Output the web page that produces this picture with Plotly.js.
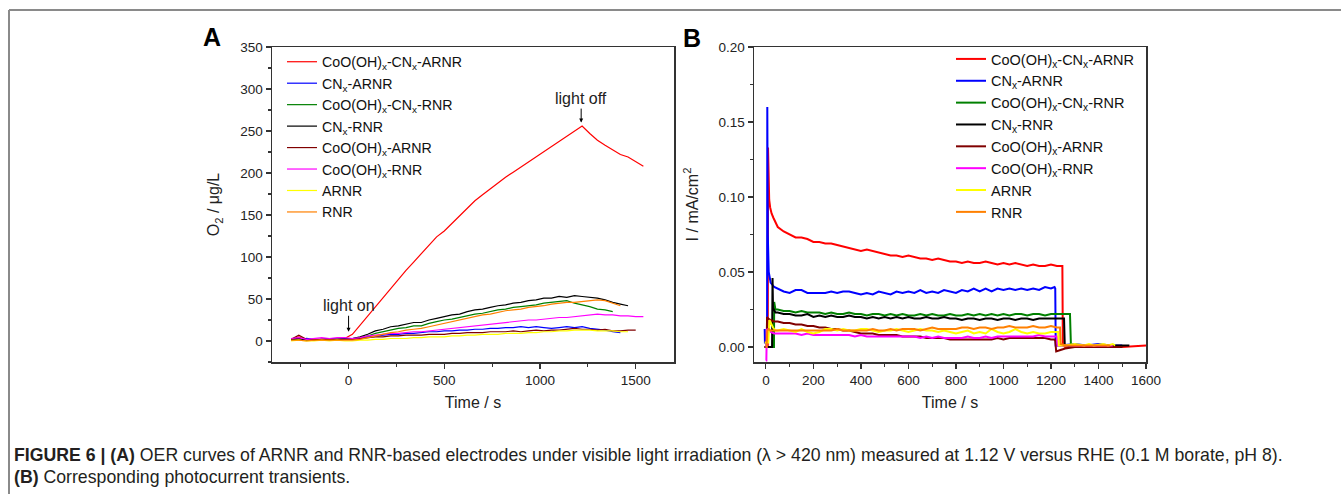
<!DOCTYPE html>
<html>
<head>
<meta charset="utf-8">
<script src="https://cdn.plot.ly/plotly-3.0.1.min.js"></script>
<style>
html,body{margin:0;padding:0;background:#fff;}
#chart{width:1341px;height:494px;}
</style>
</head>
<body>
<div id="chart"></div>
<script>
// ---------- series names ----------
const seriesNames = [
  "CoO(OH)<sub>x</sub>-CN<sub>x</sub>-ARNR",
  "CN<sub>x</sub>-ARNR",
  "CoO(OH)<sub>x</sub>-CN<sub>x</sub>-RNR",
  "CN<sub>x</sub>-RNR",
  "CoO(OH)<sub>x</sub>-ARNR",
  "CoO(OH)<sub>x</sub>-RNR",
  "ARNR",
  "RNR"
];
const seriesColors = ["#ff0000","#0000ff","#008000","#000000","#800000","#ff00ff","#ffff00","#ff8000"];

// ---------- Panel A: O2 evolution (time / s) ----------
const timeA = [-300,-260,-220,-180,-140,-100,-60,-20,20,60,100,140,180,220,260,300,340,380,420,460,500,540,580,620,660,700,740,780,820,860,900,940,980,1020,1060,1100,1140,1180,1220,1260,1300,1340,1380,1420,1460,1500,1540];
const o2_CoCN_ARNR = [2,5,1,2,2,3,2,3,8,19,30,41,52,63,74,84,94,104,113,124,131,140,150,158,167,174,181,189,195,201,207,213,219,225,231,238,243,249,256,247,239,233,228,222,219,213,208];
const o2_CN_ARNR   = [2,1,3,2,2,3,2,3,3,4,5,6,7,8,8,9,9,10,11,11,12,12,13,13,14,14,15,15,16,16,17,16,17,16,15,16,17,16,17,15,14,13,11,10];
const o2_CoCN_RNR  = [1,2,1,1,2,1,2,2,2,4,6,9,11,13,15,16,18,18,21,23,25,26,28,30,32,33,35,37,38,40,41,42,43,45,46,47,48,45,43,41,38,37,35];
const o2_CN_RNR    = [2,3,1,2,1,2,2,2,3,5,8,12,14,17,18,20,22,22,25,27,29,31,32,35,37,38,40,42,43,45,46,48,49,51,51,53,52,54,53,52,51,49,46,44,42];
const o2_Co_ARNR   = [2,7,2,1,2,2,1,2,2,3,4,5,5,6,6,7,7,7,8,8,8,9,9,10,10,10,11,11,11,12,11,12,13,12,13,13,14,15,14,14,13,14,12,12,13,13];
const o2_Co_RNR    = [3,4,2,3,4,3,4,4,3,4,6,7,8,9,9,10,11,11,12,13,14,15,16,17,18,19,20,21,22,23,24,25,25,26,27,28,28,29,30,31,32,31,31,30,30,29,29];
const o2_ARNR      = [0,1,0,0,1,0,1,0,0,1,1,2,2,3,3,3,4,4,5,5,5,6,6,7,7,8,8,8,9,9,9,10,10,11,11,12,12,13,13,13,12,12,12,11,11];
const o2_RNR       = [1,1,0,1,1,1,1,1,1,2,4,6,8,10,11,13,14,15,17,19,21,23,25,27,29,31,32,34,36,37,38,40,41,42,44,45,46,46,47,48,49,48,45,42];
const o2Series = [o2_CoCN_ARNR,o2_CN_ARNR,o2_CoCN_RNR,o2_CN_RNR,o2_Co_ARNR,o2_Co_RNR,o2_ARNR,o2_RNR];

// ---------- Panel B: photocurrent (time / s, mA/cm2) ----------
const timeB = [50,75,100,125,150,175,200,225,250,275,300,325,350,375,400,425,450,475,500,525,550,575,600,625,650,675,700,725,750,775,800,825,850,875,900,925,950,975,1000,1025,1050,1075,1100,1125,1150,1175,1200];

const headT_CoCN_ARNR = [-5,8,9,11,14,18,24,32,40];
const headI_CoCN_ARNR = [0,0,0.133,0.105,0.098,0.093,0.089,0.086,0.083];
const onI_CoCN_ARNR = [.080,.077,.075,.073,.073,.072,.070,.070,.069,.069,.068,.067,.066,.065,.064,.065,.064,.063,.062,.061,.061,.060,.061,.060,.059,.059,.058,.059,.058,.057,.057,.056,.057,.056,.056,.057,.056,.055,.056,.055,.056,.055,.054,.055,.054,.054,.055];
const tailT_CoCN_ARNR = [1225,1248,1250,1260,1300,1400,1500,1600];
const tailI_CoCN_ARNR = [.054,.054,.001,.000,.000,.000,.000,.001];

const headT_CN_ARNR = [-5,-4,5,6,8,12,20,35];
const headI_CN_ARNR = [0.012,0.003,0.003,0.160,0.075,0.050,0.043,0.040];
const onI_CN_ARNR = [.039,.037,.036,.038,.038,.036,.036,.036,.036,.037,.036,.037,.037,.036,.035,.036,.035,.037,.036,.035,.037,.036,.037,.036,.038,.036,.037,.036,.038,.037,.036,.038,.037,.039,.037,.039,.037,.039,.038,.039,.038,.039,.038,.039,.038,.040,.039];
const tailT_CN_ARNR = [1215,1218,1220,1240,1300,1350,1400,1450,1500];
const tailI_CN_ARNR = [.040,.039,.001,.001,.002,.001,.002,.001,.001];

const headT_CoCN_RNR = [-5,30,34,35,40];
const headI_CoCN_RNR = [0,0,0,0.030,0.025];
const onI_CoCN_RNR = [.025,.024,.024,.023,.024,.023,.023,.023,.022,.023,.022,.022,.023,.022,.022,.021,.022,.022,.021,.022,.021,.022,.021,.021,.022,.021,.022,.021,.021,.022,.021,.021,.022,.021,.022,.021,.022,.021,.022,.021,.022,.022,.021,.022,.022,.021,.022];
const tailT_CoCN_RNR = [1225,1250,1280,1284,1300,1400,1500];
const tailI_CoCN_RNR = [.022,.022,.022,.001,.001,.000,.000];

const headT_CN_RNR = [-5,26,28,30,40];
const headI_CN_RNR = [0,0,0.046,0.026,0.023];
const onI_CN_RNR = [.023,.022,.022,.021,.021,.022,.020,.021,.020,.021,.020,.020,.021,.020,.020,.019,.020,.019,.020,.019,.020,.019,.020,.019,.019,.020,.019,.019,.020,.019,.019,.018,.019,.019,.018,.019,.019,.018,.019,.019,.018,.019,.019,.018,.019,.019,.019];
const tailT_CN_RNR = [1225,1255,1258,1300,1400,1500,1530];
const tailI_CN_RNR = [.019,.019,.001,.000,.001,.001,.001];

const headT_Co_ARNR = [-5,3,5,10,20,35];
const headI_Co_ARNR = [0,0,0.020,0.019,0.018,0.017];
const onI_Co_ARNR = [.017,.016,.016,.015,.015,.014,.014,.013,.013,.012,.012,.011,.011,.010,.009,.009,.009,.008,.008,.008,.008,.007,.007,.007,.007,.006,.006,.006,.006,.005,.005,.005,.005,.005,.005,.005,.005,.006,.005,.006,.006,.006,.006,.006,.006,.006,.005];
const tailT_Co_ARNR = [1215,1218,1222,1240,1260,1300,1400,1500];
const tailI_Co_ARNR = [.005,.004,-.003,-.002,-.001,.000,.000,.000];

const headT_Co_RNR = [0,2,4,10,20,35];
const headI_Co_RNR = [-0.009,-0.009,0.012,0.011,0.010,0.009];
const onI_Co_RNR = [.009,.009,.009,.009,.008,.009,.008,.008,.008,.008,.008,.008,.008,.007,.008,.007,.007,.007,.007,.007,.007,.007,.007,.007,.006,.007,.006,.007,.006,.006,.006,.006,.007,.006,.006,.007,.006,.007,.007,.007,.007,.007,.007,.007,.008,.007,.007];
const tailT_Co_RNR = [1215,1225,1228,1260,1300,1400,1460];
const tailI_Co_RNR = [.007,.007,.001,.001,.001,.001,.001];

const headT_ARNR = [-5,10,15,20,30,40];
const headI_ARNR = [0.003,0.003,0.018,0.016,0.013,0.011];
const onI_ARNR = [.011,.012,.011,.010,.012,.010,.009,.010,.012,.012,.011,.012,.011,.011,.012,.012,.011,.010,.011,.011,.012,.011,.010,.011,.012,.011,.011,.010,.011,.010,.009,.010,.011,.009,.010,.009,.012,.010,.009,.010,.012,.010,.009,.010,.009,.009,.010];
const tailT_ARNR = [1225,1230,1233,1260,1300,1340,1360,1380,1420,1440,1460,1470];
const tailI_ARNR = [.010,.010,.001,.001,.002,.001,.002,.001,.002,.001,.002,.001];

const headT_RNR = [0,3,6,12,20,35];
const headI_RNR = [0.0,0.0,0.011,0.012,0.011,0.011];
const onI_RNR = [.011,.011,.011,.011,.011,.011,.011,.011,.011,.011,.012,.011,.011,.011,.011,.011,.012,.011,.011,.012,.011,.012,.012,.012,.011,.012,.013,.012,.012,.012,.012,.013,.013,.012,.013,.013,.012,.013,.013,.014,.013,.013,.013,.014,.013,.013,.014];
const tailT_RNR = [1225,1238,1241,1260,1300,1400,1450];
const tailI_RNR = [.013,.013,.002,.001,.001,.001,.001];

const curB = [
  [headT_CoCN_ARNR, headI_CoCN_ARNR, onI_CoCN_ARNR, tailT_CoCN_ARNR, tailI_CoCN_ARNR],
  [headT_CN_ARNR, headI_CN_ARNR, onI_CN_ARNR, tailT_CN_ARNR, tailI_CN_ARNR],
  [headT_CoCN_RNR, headI_CoCN_RNR, onI_CoCN_RNR, tailT_CoCN_RNR, tailI_CoCN_RNR],
  [headT_CN_RNR, headI_CN_RNR, onI_CN_RNR, tailT_CN_RNR, tailI_CN_RNR],
  [headT_Co_ARNR, headI_Co_ARNR, onI_Co_ARNR, tailT_Co_ARNR, tailI_Co_ARNR],
  [headT_Co_RNR, headI_Co_RNR, onI_Co_RNR, tailT_Co_RNR, tailI_Co_RNR],
  [headT_ARNR, headI_ARNR, onI_ARNR, tailT_ARNR, tailI_ARNR],
  [headT_RNR, headI_RNR, onI_RNR, tailT_RNR, tailI_RNR]
];

// ---------- tick labels ----------
const ticksAx = [0,500,1000,1500];
const ticksAy = [0,50,100,150,200,250,300,350];
const ticksBx = [0,200,400,600,800,1000,1200,1400,1600];
const ticksBy = [0,0.05,0.10,0.15,0.20];

// ---------- build ----------
const FONT = "Liberation Sans, Arial, Helvetica, sans-serif";
const W = 1341, H = 494;
const px = v => v / W;
const py = v => 1 - v / H;

const traces = [];
seriesNames.forEach((nm, i) => {
  traces.push({
    type: "scatter", mode: "lines",
    x: timeA, y: o2Series[i],
    name: nm, legend: "legend",
    xaxis: "x", yaxis: "y",
    line: {color: seriesColors[i], width: 1.2},
    hoverinfo: "skip"
  });
});
seriesNames.forEach((nm, i) => {
  const d = curB[i];
  traces.push({
    type: "scatter", mode: "lines",
    x: d[0].concat(timeB, d[3]),
    y: d[1].concat(d[2], d[4]),
    name: nm, legend: "legend2",
    xaxis: "x2", yaxis: "y2",
    line: {color: seriesColors[i], width: 2},
    hoverinfo: "skip"
  });
});

const axCommon = {
  showline: true, linecolor: "#333", linewidth: 1.5, mirror: true,
  ticks: "outside", ticklen: 5, tickwidth: 1.2, tickcolor: "#333",
  showgrid: false, zeroline: false,
  tickfont: {family: FONT, size: 13.5, color: "#222"},
  minor: {ticks: "outside", ticklen: 3, tickwidth: 1.2, tickcolor: "#333", showgrid: false}
};

const layout = {
  width: W, height: H,
  margin: {l: 0, r: 0, t: 0, b: 0},
  paper_bgcolor: "#fff", plot_bgcolor: "#fff",
  font: {family: FONT, color: "#222"},
  showlegend: true,
  xaxis: Object.assign({}, axCommon, {
    domain: [px(272), px(674)], range: [-400, 1700], anchor: "y",
    tickmode: "array", tickvals: ticksAx,
    minor: Object.assign({}, axCommon.minor, {dtick: 250, tick0: 0}),
    title: {text: "Time / s", font: {family: FONT, size: 16, color: "#222"}, standoff: 10}
  }),
  yaxis: Object.assign({}, axCommon, {
    domain: [py(362), py(47)], range: [-25, 350], anchor: "x",
    tickmode: "array", tickvals: ticksAy,
    minor: Object.assign({}, axCommon.minor, {dtick: 25, tick0: 0}),
    title: {text: "O<sub>2</sub> / μg/L", font: {family: FONT, size: 16, color: "#222"}, standoff: 16}
  }),
  xaxis2: Object.assign({}, axCommon, {
    domain: [px(754), px(1146)], range: [-50, 1600], anchor: "y2",
    tickmode: "array", tickvals: ticksBx,
    minor: Object.assign({}, axCommon.minor, {dtick: 100, tick0: 0}),
    title: {text: "Time / s", font: {family: FONT, size: 16, color: "#222"}, standoff: 10}
  }),
  yaxis2: Object.assign({}, axCommon, {
    domain: [py(362), py(47)], range: [-0.01, 0.20], anchor: "x2",
    tickmode: "array", tickvals: ticksBy, tickformat: ".2f",
    minor: Object.assign({}, axCommon.minor, {dtick: 0.025, tick0: 0}),
    title: {text: "I / mA/cm<sup>2</sup>", font: {family: FONT, size: 16, color: "#222"}, standoff: 16}
  }),
  legend: {
    x: px(282), y: py(46), xanchor: "left", yanchor: "top",
    bgcolor: "rgba(0,0,0,0)", borderwidth: 0, tracegroupgap: 0,
    font: {family: FONT, size: 14.2, color: "#111"}
  },
  legend2: {
    x: px(951), y: py(43), xanchor: "left", yanchor: "top",
    bgcolor: "rgba(0,0,0,0)", borderwidth: 0, tracegroupgap: 0,
    font: {family: FONT, size: 14.5, color: "#111"}
  },
  shapes: [
    {type: "line", xref: "paper", yref: "paper", x0: px(9), x1: 1, y0: py(10), y1: py(10), line: {color: "#8a8a8a", width: 2}},
    {type: "line", xref: "paper", yref: "paper", x0: px(9), x1: px(9), y0: py(10), y1: 0, line: {color: "#8a8a8a", width: 2}}
  ],
  annotations: [
    {xref: "paper", yref: "paper", x: px(212), y: py(37), xanchor: "center", yanchor: "middle", text: "<b>A</b>", showarrow: false, font: {family: FONT, size: 25, color: "#000"}},
    {xref: "paper", yref: "paper", x: px(692), y: py(38), xanchor: "center", yanchor: "middle", text: "<b>B</b>", showarrow: false, font: {family: FONT, size: 25, color: "#000"}},
    {xref: "x", yref: "y", x: 0, y: 11, text: "light on", showarrow: true, ax: 0, ay: -26, arrowhead: 2, arrowsize: 0.8, arrowwidth: 1, arrowcolor: "#000", font: {family: FONT, size: 16, color: "#222"}},
    {xref: "x", yref: "y", x: 1215, y: 260, text: "light off", showarrow: true, ax: 0, ay: -24, arrowhead: 2, arrowsize: 0.8, arrowwidth: 1, arrowcolor: "#000", font: {family: FONT, size: 16, color: "#222"}},
    {xref: "paper", yref: "paper", x: px(12), y: py(455), xanchor: "left", yanchor: "middle", showarrow: false, align: "left",
     text: "<b>FIGURE 6 | (A)</b> OER curves of ARNR and RNR-based electrodes under visible light irradiation (λ > 420 nm) measured at 1.12 V versus RHE (0.1 M borate, pH 8).",
     font: {family: FONT, size: 17.7, color: "#231f20"}},
    {xref: "paper", yref: "paper", x: px(12), y: py(477), xanchor: "left", yanchor: "middle", showarrow: false, align: "left",
     text: "<b>(B)</b> Corresponding photocurrent transients.",
     font: {family: FONT, size: 17.7, color: "#231f20"}}
  ]
};

Plotly.newPlot("chart", traces, layout, {staticPlot: true, displayModeBar: false});
</script>
</body>
</html>
